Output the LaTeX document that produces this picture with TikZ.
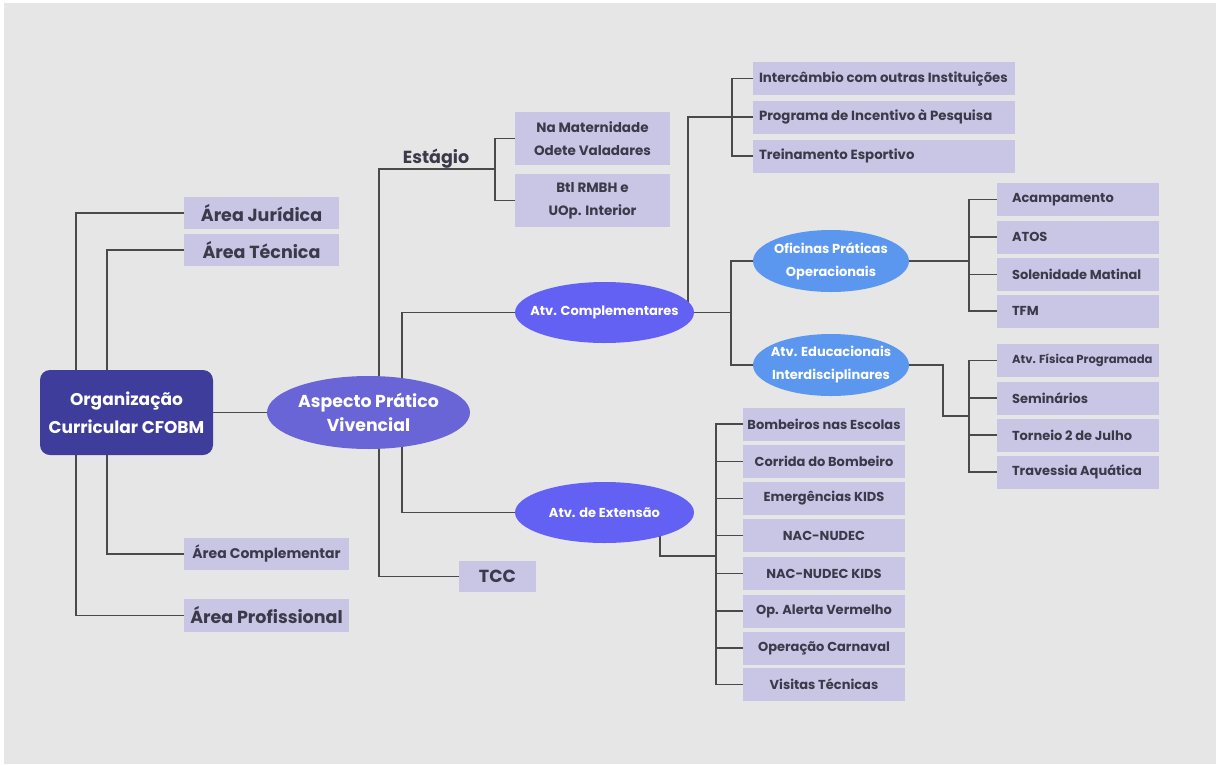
\documentclass[tikz,border=0pt]{standalone}
\usepackage{fontspec}
\usetikzlibrary{shapes.geometric}
\setmainfont{Poppins}
\pgfdeclarelayer{bg}
\pgfsetlayers{bg,main}
\definecolor{bgc}{HTML}{E6E6E6}
\definecolor{boxc}{HTML}{C9C5E5}
\definecolor{txt}{HTML}{3B3A4A}
\definecolor{mainc}{HTML}{3F3D9B}
\definecolor{aspc}{HTML}{6A65D6}
\definecolor{atvc}{HTML}{6361F4}
\definecolor{ofc}{HTML}{5C97EF}
\definecolor{linec}{HTML}{4A4A4A}
\newcommand\lft[2]{\makebox[#1][l]{#2}}
\begin{document}
\begin{tikzpicture}[x=1pt,y=-1pt,
  box/.style={fill=boxc, text=txt, inner sep=0pt, align=center,
    font=\bfseries\fontsize{13}{22}\selectfont},
  big/.style={font=\bfseries\fontsize{17.5}{24}\selectfont},
  mid/.style={font=\bfseries\fontsize{14}{22}\selectfont},
  wide/.style={box, minimum width=262, minimum height=33, inner xsep=6pt,
    font=\bfseries\fontsize{13.3}{22}\selectfont},
  rbox/.style={box, minimum width=162, minimum height=33, inner xsep=15pt},
  ebox/.style={box, minimum width=162, minimum height=33},
  oval/.style={ellipse, inner sep=0pt, outer sep=0pt},
  ovtext/.style={text=white, align=center, inner sep=0pt,
    font=\bfseries\fontsize{13}{23}\selectfont},
  conn/.style={draw=linec, line width=1.6pt}]
\useasboundingbox (0,0) rectangle (1216,764);

% root and first level
\node[rounded corners=10pt, fill=mainc, text=white, align=center,
  minimum width=173, minimum height=85,
  font=\bfseries\fontsize{17}{28}\selectfont] (main) at (126.5,412.5)
  {Organização\\Curricular CFOBM};
\node[box, big, minimum width=155, minimum height=32] (jur) at (261.5,213) {Área Jurídica};
\node[box, big, minimum width=155, minimum height=32] (tec) at (261.5,250) {Área Técnica};
\node[box, mid, minimum width=165, minimum height=32] (comp) at (266.5,554) {Área Complementar};
\node[box, big, minimum width=165, minimum height=33] (prof) at (266.5,615.5) {Área Profissional};
\node[oval, fill=aspc, minimum width=203, minimum height=73] (asp) at (368.5,412.5) {};
\node[ovtext, font=\bfseries\fontsize{17.3}{24}\selectfont] at (asp.center) {Aspecto Prático\\Vivencial};

% internship branch
\node[text=txt, big, inner sep=0pt] (est) at (436,159) {Estágio};
\node[box, font=\bfseries\fontsize{13.5}{23}\selectfont, minimum width=155, minimum height=53] (mat) at (592.5,138.5) {Na Maternidade\\Odete Valadares};
\node[box, font=\bfseries\fontsize{13.5}{23}\selectfont, minimum width=155, minimum height=53] (btl) at (592.5,200.5) {Btl RMBH e\\UOp. Interior};
\node[box, big, minimum width=77, minimum height=31] (tcc) at (497.5,576.5) {TCC};

% complementary activities
\node[oval, fill=atvc, minimum width=179, minimum height=61] (compl) at (604.5,312.5) {};
\node[ovtext] at (compl.center) {Atv. Complementares};
\node[wide] (int) at (884,78.5) {\lft{250pt}{Intercâmbio com outras Instituições}};
\node[wide] (prog) at (884,117) {\lft{250pt}{Programa de Incentivo à Pesquisa}};
\node[wide] (trn) at (884,156) {\lft{250pt}{Treinamento Esportivo}};
\node[oval, fill=ofc, minimum width=156, minimum height=62] (ofi) at (831,261) {};
\node[ovtext] at (ofi.center) {Oficinas Práticas\\Operacionais};
\node[oval, fill=ofc, minimum width=156, minimum height=62] (edu) at (831,365) {};
\node[ovtext] at (edu.center) {Atv. Educacionais\\Interdisciplinares};
\node[rbox] (aca) at (1078,199.5) {\lft{132pt}{Acampamento}};
\node[rbox] (atos) at (1078,237) {\lft{132pt}{ATOS}};
\node[rbox] (sol) at (1078,274.5) {\lft{132pt}{Solenidade Matinal}};
\node[rbox] (tfm) at (1078,311) {\lft{132pt}{TFM}};
\node[rbox, font=\bfseries\fontsize{11.6}{22}\selectfont] (afp) at (1078,360.5) {\lft{132pt}{Atv. Física Programada}};
\node[rbox] (sem) at (1078,398) {\lft{132pt}{Seminários}};
\node[rbox] (tor) at (1078,435) {\lft{132pt}{Torneio 2 de Julho}};
\node[rbox] (tra) at (1078,472) {\lft{132pt}{Travessia Aquática}};

% extension activities
\node[oval, fill=atvc, minimum width=179, minimum height=61] (ext) at (604.5,512.5) {};
\node[ovtext] at (ext.center) {Atv. de Extensão};
\node[ebox] (bne) at (824,424) {Bombeiros nas Escolas};
\node[ebox] (cdb) at (824,461.5) {Corrida do Bombeiro};
\node[ebox] (emk) at (824,498.5) {Emergências KIDS};
\node[ebox] (nac) at (824,535.5) {NAC-NUDEC};
\node[ebox] (nak) at (824,573.5) {NAC-NUDEC KIDS};
\node[ebox] (oav) at (824,611) {Op. Alerta Vermelho};
\node[ebox] (opc) at (824,648) {Operação Carnaval};
\node[ebox] (vis) at (824,684.5) {Visitas Técnicas};

% junction points of the orthogonal connectors
\coordinate (xa) at (76,0);
\coordinate (xb) at (107,0);
\coordinate (xc) at (379,0);
\coordinate (xd) at (402,0);
\coordinate (estj) at (495,169);
\coordinate (xe) at (688,0);
\coordinate (tj) at (732,117);
\coordinate (cj) at (731,312.5);
\coordinate (oj) at (969,261);
\coordinate (ej) at (969,416);
\coordinate (xf) at (943,0);
\coordinate (xg) at (660,0);
\coordinate (xj) at (716,556);

\begin{pgfonlayer}{bg}
  \fill[white] (0,0) rectangle (1216,764);
  \fill[bgc] (4,3) rectangle (1216,764);
  \draw[conn] (main.north -| xa) |- (jur.west);
  \draw[conn] (main.north -| xb) |- (tec.west);
  \draw[conn] (main.south -| xb) |- (comp.west);
  \draw[conn] (main.south -| xa) |- (prof.west);
  \draw[conn] (main.east) -- (asp.west);
  \draw[conn] (asp.center -| xc) |- (estj);
  \draw[conn] (mat.west) -| (estj) |- (btl.west);
  \draw[conn] (asp.center -| xc) |- (tcc.west);
  \draw[conn] (asp.center -| xd) |- (compl.west);
  \draw[conn] (asp.center -| xd) |- (ext.west);
  \draw[conn] (compl.center -| xe) |- (prog.west);
  \draw[conn] (int.west) -| (tj) |- (trn.west);
  \draw[conn] (compl.east) -- (cj);
  \draw[conn] (ofi.west) -| (cj) |- (edu.west);
  \draw[conn] (ofi.east) -- (oj);
  \draw[conn] (aca.west) -| (oj) |- (tfm.west);
  \draw[conn] (atos.west) -- (atos.west -| oj);
  \draw[conn] (sol.west) -- (sol.west -| oj);
  \draw[conn] (edu.east) -| (xf |- ej) -- (ej);
  \draw[conn] (afp.west) -| (ej) |- (tra.west);
  \draw[conn] (sem.west) -- (sem.west -| ej);
  \draw[conn] (tor.west) -- (tor.west -| ej);
  \draw[conn] (ext.center -| xg) |- (xj);
  \draw[conn] (bne.west) -| (xj) |- (vis.west);
  \foreach \n in {cdb,emk,nac,nak,oav,opc}
    \draw[conn] (\n.west) -- (\n.west -| xj);
\end{pgfonlayer}
\end{tikzpicture}
\end{document}
